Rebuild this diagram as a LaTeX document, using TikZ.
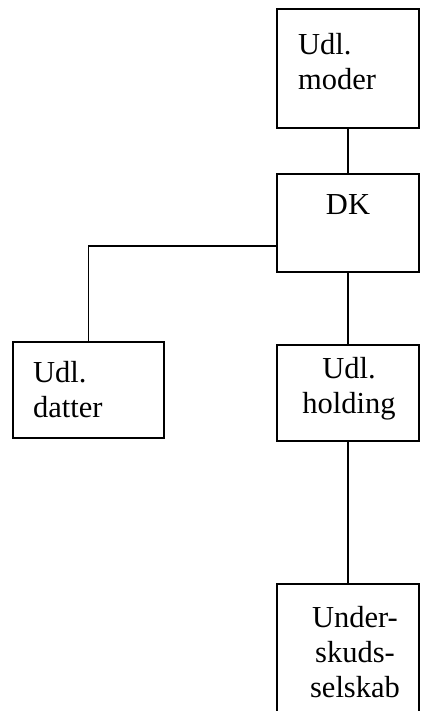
\documentclass[tikz,border=0pt]{standalone}
\usepackage{fontspec}
\setmainfont{Liberation Serif}
\usepackage{tikz}
\usetikzlibrary{positioning}

\tikzset{
  firm/.style={draw, line width=1.2pt, inner sep=0pt},
  firmtext/.style={inner sep=0pt, font=\fontsize{30.5}{35}\selectfont},
  owns/.style={line width=1.2pt}
}

\begin{document}
\begin{tikzpicture}[x=1pt, y=-1pt]
  \clip (0,0) rectangle (421,711);
  % define the boxes
  \node[firm, minimum width=142pt, minimum height=119pt] (moder) at (348,68.5) {};
  \node[firm, minimum width=142pt, minimum height=98pt] (dk) at (348,223) {};
  \node[firm, minimum width=151pt, minimum height=96pt] (datter) at (88.5,390) {};
  \node[firm, minimum width=142pt, minimum height=96pt] (holding) at (348,393) {};
  \node[firm, minimum width=142pt, minimum height=146pt] (underskud) at (348,657) {};
  % the texts
  \node[firmtext, anchor=north west, align=left] (modertxt) at (298,33) {Udl.\\moder};
  \node[firmtext, anchor=north] (dktxt) at (348,194) {DK};
  \node[firmtext, anchor=north west, align=left] (dattertxt) at (33,361) {Udl.\\datter};
  \node[firmtext, anchor=north, align=center] (holdingtxt) at (349,357) {Udl.\\holding};
  \node[firmtext, anchor=north, align=center] (underskudtxt) at (355,606) {Under-\\skuds-\\selskab};
  % draw the connectors
  \draw[owns] (moder) -- (dk);
  \draw[owns] ([yshift=-23pt]dk.west) -| (datter);
  \draw[owns] (dk) -- (holding);
  \draw[owns] (holding) -- (underskud);
\end{tikzpicture}
\end{document}
